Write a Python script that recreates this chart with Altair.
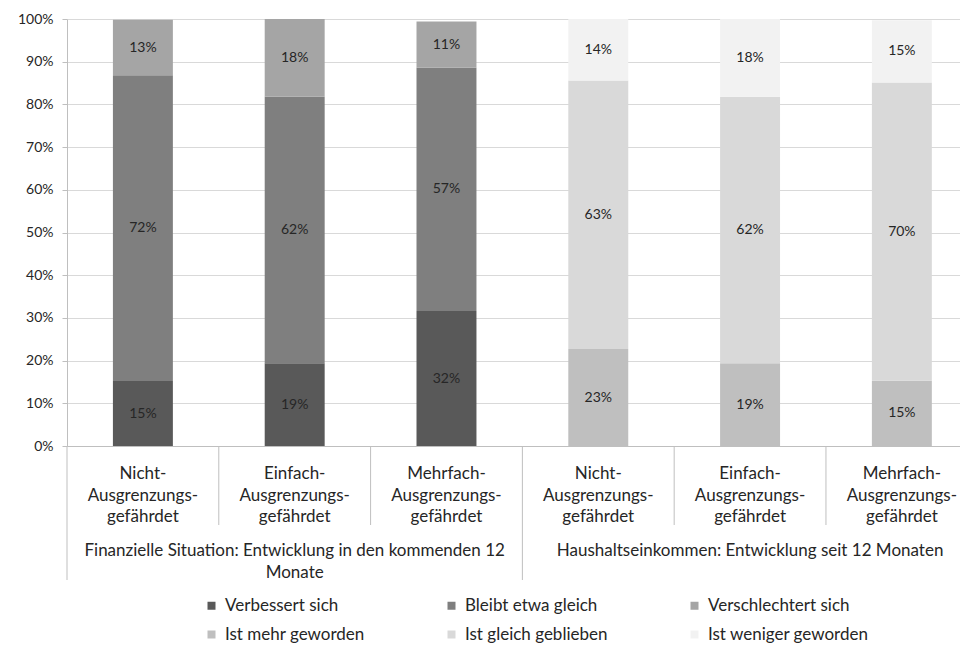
import altair as alt
import pandas as pd

# ---- data ----
groups = [
    "Finanzielle Situation: Entwicklung in den kommenden 12\nMonate",
    "Haushaltseinkommen: Entwicklung seit 12 Monaten",
]
categories = [
    "Nicht-\nAusgrenzungs-\ngefährdet",
    "Einfach-\nAusgrenzungs-\ngefährdet",
    "Mehrfach-\nAusgrenzungs-\ngefährdet",
]
series_fin = ["Verbessert sich", "Bleibt etwa gleich", "Verschlechtert sich"]
series_hh = ["Ist mehr geworden", "Ist gleich geblieben", "Ist weniger geworden"]

fin_verbessert = [15.2, 19.4, 31.6]
fin_gleich = [71.6, 62.4, 57.0]
fin_schlechter = [13.0, 18.2, 10.8]
hh_mehr = [22.7, 19.4, 15.3]
hh_gleich = [62.9, 62.4, 69.8]
hh_weniger = [14.4, 18.2, 14.6]

colors = ["#595959", "#7f7f7f", "#a5a5a5", "#bfbfbf", "#d9d9d9", "#f2f2f2"]

FONT = "Lato"
TXT = "#262626"
HALF = 0.1975      # half bar width (in category units)
XMAX = 5.883       # right edge of visible area (chart is cropped in the reference)

rows = []
for g, (names, vals) in enumerate([
    (series_fin, [fin_verbessert, fin_gleich, fin_schlechter]),
    (series_hh, [hh_mehr, hh_gleich, hh_weniger]),
]):
    for c in range(3):
        idx = g * 3 + c
        base = 0.0
        for s, name in enumerate(names):
            v = vals[s][c]
            rows.append({
                "series": name,
                "order": g * 3 + s,
                "xl": idx + 0.5 - HALF,
                "xr": idx + 0.5 + HALF,
                "xc": idx + 0.5,
                "y0": base,
                "y1": base + v,
                "ym": base + v / 2,
                "label": f"{v:.0f}%",
            })
            base += v
df = pd.DataFrame(rows)

cat_df = pd.DataFrame({"xc": [i + 0.5 for i in range(6)],
                       "text": categories * 2})
grp_df = pd.DataFrame({"xc": [1.5, 4.5], "text": groups})
short_df = pd.DataFrame({"pos": [1, 2, 4, 5]})
long_df = pd.DataFrame({"pos": [0, 3]})

xscale = alt.Scale(domain=[0, XMAX], nice=False, zero=False)
yscale = alt.Scale(domain=[0, 100], nice=False)

bars = alt.Chart(df).mark_bar().encode(
    x=alt.X("xl:Q", scale=xscale,
            axis=alt.Axis(title=None, labels=False, ticks=False, grid=False,
                          domainColor="#bfbfbf")),
    x2="xr:Q",
    y=alt.Y("y0:Q", scale=yscale,
            axis=alt.Axis(title=None, values=list(range(0, 101, 10)),
                          labelExpr="datum.value + '%'",
                          grid=True, gridColor="#d9d9d9",
                          domainColor="#bfbfbf", tickColor="#bfbfbf",
                          tickSize=5, labelPadding=9,
                          labelFont=FONT, labelFontSize=14, labelColor=TXT)),
    y2="y1:Q",
    color=alt.Color("series:N",
                    scale=alt.Scale(domain=series_fin + series_hh, range=colors),
                    legend=alt.Legend(title=None, orient="none", direction="horizontal",
                                      legendX=136, legendY=578, columns=3,
                                      symbolType="square",
                                      symbolSize=64, symbolStrokeWidth=0,
                                      labelFont=FONT, labelFontSize=17,
                                      labelColor=TXT, columnPadding=78,
                                      rowPadding=11, labelOffset=5, padding=0,
                                      labelLimit=300)),
    order="order:Q",
)

labels = alt.Chart(df).mark_text(font=FONT, fontSize=14, color=TXT).encode(
    x="xc:Q", y="ym:Q", text="label:N")

cat_text = alt.Chart(cat_df).mark_text(
    font=FONT, fontSize=17, color=TXT, lineBreak="\n", lineHeight=21.5,
    baseline="middle").encode(
    x="xc:Q", y=alt.value(455), text="text:N")

grp_text = alt.Chart(grp_df).mark_text(
    font=FONT, fontSize=17, color=TXT, lineBreak="\n", lineHeight=21.5,
    baseline="middle").encode(
    x="xc:Q", y=alt.value(532), text="text:N")

short_rules = alt.Chart(short_df).mark_rule(color="#bfbfbf", strokeWidth=1).encode(
    x="pos:Q", y=alt.value(427), y2=alt.value(506))
long_rules = alt.Chart(long_df).mark_rule(color="#bfbfbf", strokeWidth=1).encode(
    x="pos:Q", y=alt.value(427), y2=alt.value(561))

chart = alt.layer(bars, labels, short_rules, long_rules, cat_text, grp_text).properties(
    width=893, height=427,
    autosize=alt.AutoSizeParams(type="none"),
    padding={"left": 59, "top": 11, "right": 0, "bottom": 200},
    background="white",
).configure_view(stroke=None)

chart.save("out.html", embed_options={"renderer": "svg", "actions": False})
